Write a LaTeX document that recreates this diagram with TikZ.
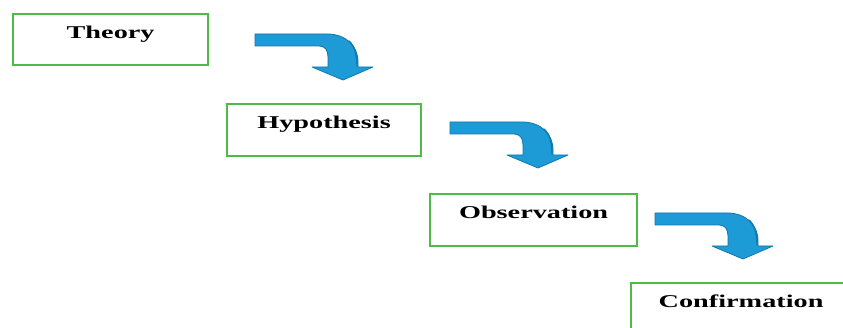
\documentclass[tikz,border=0pt]{standalone}
\usepackage{fontspec}
\usepackage{graphicx}
\setmainfont{Liberation Serif}
\definecolor{boxgreen}{RGB}{78,186,72}
\definecolor{arrowblue}{RGB}{28,155,215}
\definecolor{arrowedge}{RGB}{20,118,170}
\begin{document}
\begin{tikzpicture}[x=1pt,y=-1pt,
  stage/.style={draw=boxgreen, line width=2.2pt, fill=white, anchor=north west,
    inner xsep=0pt, inner ysep=0pt, text height=24pt, text depth=27pt,
    font=\fontsize{18}{22}\selectfont\bfseries},
  bentarrow/.pic={
    \fill[arrowblue, draw=arrowedge, line width=0.8pt, line join=round]
      (0,0) -- (72,0) .. controls (91,0) and (103,12) .. (103,28)
      -- (103,33) -- (118,33) -- (88,46) -- (57,33) -- (73,33) -- (73,23)
      .. controls (73,16) and (70,12) .. (64,12) -- (0,12) -- cycle;
    % darker bevel along the outer side of the bend
    \draw[arrowedge, line width=1.4pt, line cap=round]
      (94,7) .. controls (100,13) and (102,20) .. (102,32);
  }]
\useasboundingbox (0,0) rectangle (843,328);
\fill[white] (0,0) rectangle (843,328);

% the four stages of the process
\node[stage, minimum width=195pt, minimum height=51pt] (theory) at (12,13)
  {\scalebox{1.57}[1]{Theory}};
\node[stage, minimum width=194pt, minimum height=52pt] (hypothesis) at (226,103)
  {\scalebox{1.57}[1]{Hypothesis}};
\node[stage, minimum width=207pt, minimum height=52pt] (observation) at (429,193)
  {\scalebox{1.57}[1]{Observation}};
\node[stage, minimum width=220pt, minimum height=52pt] (confirmation) at (630,282)
  {\scalebox{1.57}[1]{Confirmation}};

% bent block arrows leading from one stage down to the next
\coordinate (a1) at (255,34);
\coordinate (a2) at (450,122);
\coordinate (a3) at (655,213);
\pic at (a1) {bentarrow};
\pic at (a2) {bentarrow};
\pic at (a3) {bentarrow};
\end{tikzpicture}
\end{document}
